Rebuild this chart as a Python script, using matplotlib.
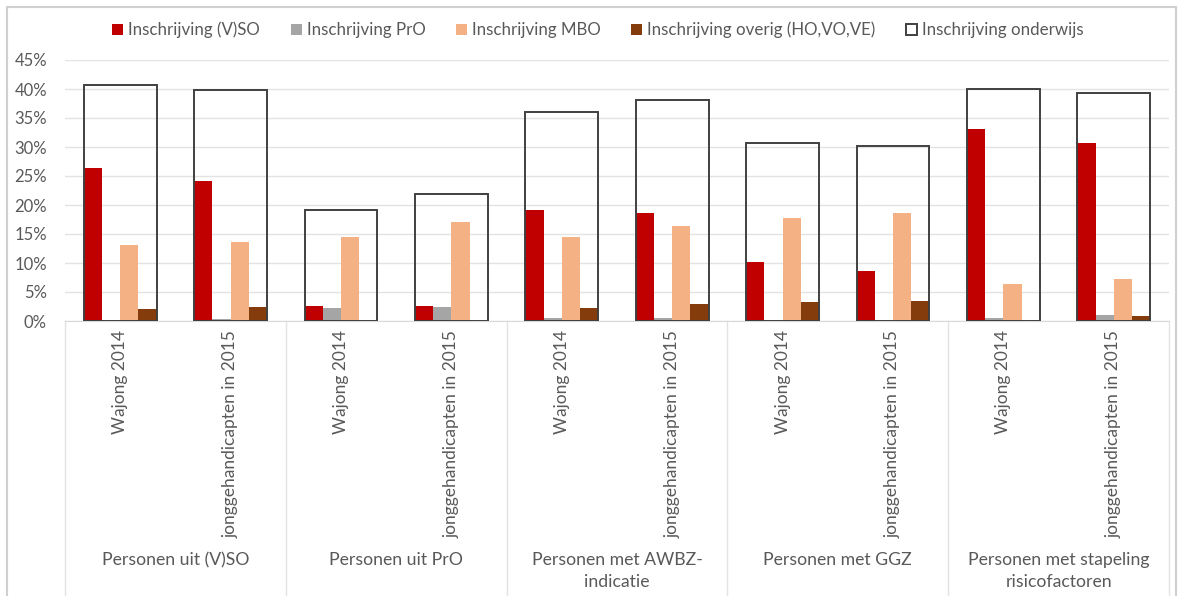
import numpy as np
import matplotlib.pyplot as plt
from matplotlib.patches import Rectangle
from matplotlib.lines import Line2D

plt.rcParams['font.family'] = ['Lato', 'DejaVu Sans']

groups = ["Personen uit (V)SO", "Personen uit PrO", "Personen met AWBZ-\nindicatie",
          "Personen met GGZ", "Personen met stapeling\nrisicofactoren"]
subcats = ["Wajong 2014", "jonggehandicapten in 2015"]

vso     = [26.4, 24.1, 2.6, 2.6, 19.1, 18.7, 10.2, 8.6, 33.1, 30.7]
pro     = [0.0, 0.3, 2.2, 2.4, 0.5, 0.6, 0.0, 0.0, 0.5, 1.0]
mbo     = [13.1, 13.6, 14.5, 17.1, 14.5, 16.4, 17.8, 18.6, 6.4, 7.2]
overig  = [2.0, 2.4, 0.0, 0.0, 2.2, 2.9, 3.3, 3.5, 0.0, 0.9]
totaal  = [40.7, 39.8, 19.1, 21.9, 36.0, 38.1, 30.7, 30.2, 40.0, 39.3]

series = [("Inschrijving (V)SO", vso, "#C00000"),
          ("Inschrijving PrO", pro, "#A5A5A5"),
          ("Inschrijving MBO", mbo, "#F4B183"),
          ("Inschrijving overig (HO,VO,VE)", overig, "#843C0C")]

W, H = 1181, 596
fig = plt.figure(figsize=(W / 100, H / 100), dpi=100)
ax = fig.add_axes([65 / W, (H - 321) / H, (1169 - 65) / W, (321 - 60) / H])

x = np.arange(len(vso))
bw = 0.165
for i, (name, vals, col) in enumerate(series):
    ax.bar(x + (i - 1.5) * bw, np.array(vals) / 100, bw, color=col, label=name, zorder=2)
ax.bar(x, np.array(totaal) / 100, 4 * bw, facecolor="none", edgecolor="#404040",
       linewidth=1.4, label="Inschrijving onderwijs", zorder=3)

ax.set_xlim(-0.5, len(vso) - 0.5)
ax.set_ylim(0, 0.45)
ax.set_yticks(np.arange(0, 0.46, 0.05))
ax.set_yticklabels([f"{int(round(v * 100))}%" for v in np.arange(0, 0.46, 0.05)])
ax.tick_params(axis="y", length=0, pad=13, labelsize=12, labelcolor="#595959")
ax.set_xticks([])
ax.grid(axis="y", color="#E3E3E3", linewidth=1, zorder=0)
for s in ["top", "right", "left"]:
    ax.spines[s].set_visible(False)
ax.spines["bottom"].set_color("#D9D9D9")

# rotated sub-category labels
trans = ax.get_xaxis_transform()
for i in range(len(vso)):
    ax.text(i, -0.035, subcats[i % 2], rotation=90, ha="center", va="top",
            fontsize=12.5, color="#595959", transform=trans)

# group labels (top line aligned) and separators
for g, name in enumerate(groups):
    xc = 2 * g + 0.5
    fig.text(ax.transData.transform((xc, 0))[0] / W, (H - 552) / H, name,
             ha="center", va="top", fontsize=12.7, color="#595959",
             linespacing=1.45, multialignment="center")
for b in range(6):
    xb = 2 * b - 0.5
    ax.add_line(Line2D([xb, xb], [0, -1.1], transform=trans, color="#E3E3E3",
                       linewidth=1, clip_on=False))

# chart border
fig.patches.append(Rectangle((7 / W, -0.01), (1176 - 7) / W, (H - 7) / H + 0.01,
                             transform=fig.transFigure, fill=False,
                             edgecolor="#D0D0D0", linewidth=1.5))

h, l = ax.get_legend_handles_labels()
fig.legend(h, l, loc="center", bbox_to_anchor=(598 / W, (H - 30) / H), ncol=5,
           frameon=False, fontsize=12.2, handlelength=0.65, handleheight=0.65,
           handletextpad=0.3, columnspacing=1.8, labelcolor="#595959")

fig.savefig("out.png", dpi=100)
